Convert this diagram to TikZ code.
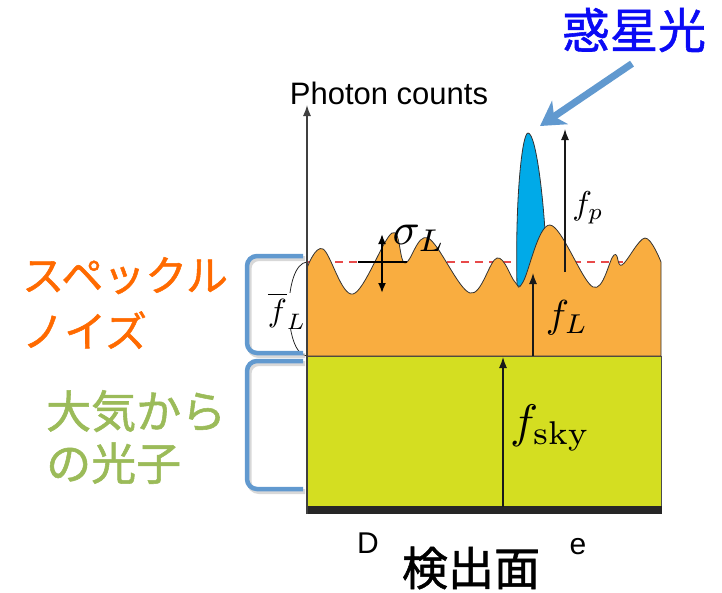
\documentclass[tikz,border=0pt]{standalone}
\usepackage{fontspec}
\newfontfamily\jp[FakeBold=1.2]{Noto Sans CJK JP}
\newfontfamily\ar{Liberation Sans}
\usetikzlibrary{arrows.meta}
\definecolor{orangeF}{HTML}{F9AD40}
\definecolor{greenF}{HTML}{D4DE21}
\definecolor{blueP}{HTML}{00AAE8}
\definecolor{brk}{HTML}{6199CF}
\definecolor{txtO}{HTML}{FF6A00}
\definecolor{txtG}{HTML}{9BBB59}
\definecolor{txtB}{HTML}{0A0AF5}
\definecolor{dashR}{HTML}{E84A4A}
\tikzset{
  farrow/.style={draw=black!90, line width=1.2pt, -{Latex[length=11pt,width=8pt]}},
  axisline/.style={draw=black!75, line width=1.3pt, -{Latex[length=11pt,width=8pt]}},
  bracket/.style={draw=brk, line width=4.5pt, rounded corners=10pt},
  bshadow/.style={draw=black!30, line width=5pt, rounded corners=10pt, opacity=0.5},
  mlabel/.style={transform shape, inner sep=0pt},
}
\begin{document}
\begin{tikzpicture}[x=1pt,y=-1pt]
\useasboundingbox (0,0) rectangle (722,592);
% named coordinates
\coordinate (axb) at (307,514);
\coordinate (axt) at (307,105);
\coordinate (skyb) at (503,507);
\coordinate (skyt) at (503,357);
\coordinate (fLb) at (533,356);
\coordinate (fLt) at (533,273);
\coordinate (fpb) at (565,272);
\coordinate (fpt) at (565,129);
\coordinate (dl) at (307,262);
\coordinate (dr) at (661,262);
\coordinate (sgl) at (358,262);
\coordinate (sgr) at (407,262);
\coordinate (sgt) at (382,234);
\coordinate (sgb) at (382,293);
% green sky layer and detector bar
\filldraw[fill=greenF, draw=black!70, line width=0.8pt] (307,356) rectangle (661,507);
\fill[black!85] (307,506) rectangle (662,514);
% red dashed mean level (behind)
\draw[dashR, line width=1.5pt, dash pattern=on 8pt off 6pt] (dl) -- (dr);
% planet peak
\filldraw[fill=blueP, draw=black!80, line width=0.8pt]
  (517,286) .. controls (515,200) and (522,133) .. (528,133)
  .. controls (536,133) and (544,200) .. (546,250) -- (540,286) -- cycle;
% speckle layer
\filldraw[fill=orangeF, draw=black!80, line width=0.8pt]
  (307,356) -- plot[smooth, tension=0.6] coordinates {
  (307,268) (323,249) (353,294) (392,233) (405,263) (428,238) (470,293)
  (497,258) (515,282) (523,282) (550,225) (593,287) (614,255) (622,265)
  (645,238) (661,262)} -- (661,356) -- cycle;
% mean speckle brace
\draw[black!85, line width=0.8pt] (307,262) .. controls (283,264) and (283,354) .. (307,356);
\node[mlabel, scale=3.2, fill=white] (fbar) at (287,311) {$\overline{f}_L$};
% axis
\draw[axisline] (axb) -- (axt);
\node[font={\ar\fontsize{31}{34}\selectfont}] (pc) at (389,93) {Photon counts};
% arrows f
\draw[farrow] (skyb) -- (skyt);
\draw[farrow] (fLb) -- (fLt);
\draw[farrow] (fpb) -- (fpt);
\node[mlabel, scale=4.7] (fsky) at (550,428) {$f_{\mathrm{sky}}$};
\node[mlabel, scale=3.9] (fL) at (567,318) {$f_L$};
\node[mlabel, scale=3.3] (fp) at (588,208) {$f_p$};
% sigma
\draw[black, line width=2pt] (sgl) -- (sgr);
\draw[black, line width=1.8pt, {Latex[length=10pt,width=8pt]}-{Latex[length=10pt,width=8pt]}] (sgt) -- (sgb);
\node[mlabel, scale=4.5] (sig) at (419,238) {$\sigma_L$};
% brackets
\draw[bshadow] (305,258.5) -- (249,258.5) -- (249,355.5) -- (305,355.5);
\draw[bracket] (303,256) -- (247,256) -- (247,353) -- (303,353);
\draw[bshadow] (305,363.5) -- (249,363.5) -- (249,491.5) -- (305,491.5);
\draw[bracket] (303,361) -- (247,361) -- (247,489) -- (303,489);
% texts
\node[font={\jp\fontsize{42}{56}\selectfont}, text=txtO, align=left, anchor=west, inner sep=0pt] (sp) at (22,303) {スペックル\\ノイズ};
\node[font={\jp\fontsize{45}{52}\selectfont}, text=txtG, align=left, anchor=west, inner sep=0pt] (atm) at (46,437) {大気から\\の光子};
\node[font={\jp\fontsize{48}{50}\selectfont}, text=txtB] (pl) at (634,30) {惑星光};
\node[font={\jp\fontsize{46}{50}\selectfont}] (det) at (471,568) {検出面};
\node[font={\ar\fontsize{30}{30}\selectfont}] (dD) at (368,543) {D};
\node[font={\ar\fontsize{30}{30}\selectfont}] (de) at (578,547) {e};
% planet arrow
\draw[brk, line width=7pt, -{Stealth[length=24pt, width=28pt, inset=7pt]}] (pl.south) ++(-2,8) coordinate (pa) (pa) -- (540,126);
\end{tikzpicture}
\end{document}
